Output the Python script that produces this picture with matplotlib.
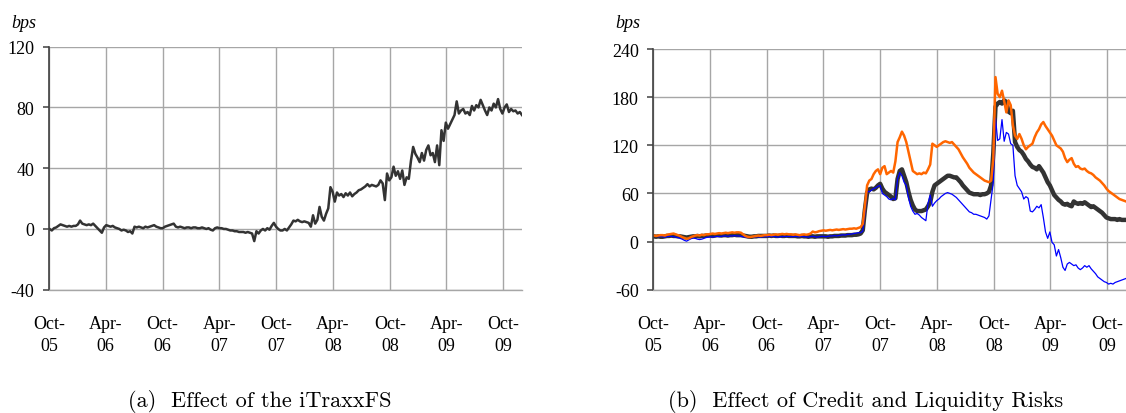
import matplotlib.pyplot as plt
import pandas as pd

plt.rcParams['axes.unicode_minus'] = False

# weekly observations starting on the first Monday of Oct-05
first_week = '2005-10-03'

# (a) effect of the iTraxxFS, bps
itraxx_fs = [
    0, -1, 0.5, 1, 2, 3, 2.5, 2, 1.5, 2, 1.5, 2, 2,
    3, 5.5, 3.5, 3, 2.5, 3, 2.5, 3.5, 2, 0.5, -1, -2.5, 1,
    2.5, 2, 1.5, 2, 1, 0.5, 0, -1, -0.5, -1, -2, -1.5, -3,
    1.5, 1, 1.5, 1, 0.5, 1.5, 1, 1.5, 2, 2.5, 1.5, 1, 0.5,
    0.5, 1.5, 2, 2.5, 3, 3.5, 1.5, 1, 1.5, 1, 0.5, 1, 1,
    0.5, 1, 1, 0.5, 0.5, 1, 0.5, 0, 0.5, -0.5, -1, 0.5, 1,
    0.5, 0.5, 0, 0, -0.5, -1, -1, -1.5, -1.5, -2, -2, -2, -2.5,
    -2, -2.5, -3, -8, -1.5, -3, -1, 0, -1, 0.5, -0.5, 2, 4,
    1.5, 0, -1, -1, 0, -1, 1, 3, 5.5, 5, 6, 5, 4.5,
    5, 4.5, 4, 1.5, 9, 3.5, 6, 14.5, 8, 5.5, 10, 13.5, 27.5,
    24.5, 18, 24, 22, 23, 21, 23.5, 22, 24, 21.5, 23, 24, 25.5,
    26, 27, 28, 29.5, 28, 29, 28.5, 28, 29, 32, 30, 19, 36.5,
    32, 34, 41, 35, 38, 33, 38.5, 29, 34, 33, 45, 54, 49.5,
    47, 44, 50, 45, 52, 55, 48.5, 50, 44, 55, 42, 65, 58,
    70, 66, 69, 72, 75, 84, 76, 78, 79, 76, 77, 75, 81,
    78, 81.5, 80, 85, 81.5, 78, 75, 80, 78, 82.5, 80, 85.5, 79,
    76, 80, 82, 77, 79, 77.5, 78, 76, 77, 75,
]

# (b) effect of credit and liquidity risks, bps
total_effect = [
    6.5, 6, 6.5, 6, 6, 6.5, 7, 7, 7.5, 7, 7, 6.5, 6.5,
    6, 5.5, 5, 5.5, 6, 6.5, 6.5, 7, 6.5, 7, 7, 7.5, 7.5,
    7.5, 7, 7.5, 8, 8, 7.5, 8, 8, 7.5, 8, 8, 8.5, 8,
    8, 8, 7.5, 7, 6.5, 6, 6, 6.5, 6.5, 7, 7, 7, 7,
    7, 7.5, 7, 7.5, 7, 7, 7.5, 7, 7, 7.5, 7, 7, 7,
    7, 6.5, 6.5, 7, 6.5, 6.5, 6, 6.5, 6.5, 6, 6.5, 6.5, 6.5,
    6.5, 6.5, 6, 6.5, 6.5, 7, 7, 7, 7.5, 7.5, 7.5, 8, 8,
    8, 8.5, 8.5, 9, 10, 14, 40, 61, 65, 66, 65, 67, 70,
    72, 66, 62, 60, 58, 56, 53, 54, 78, 88, 90, 82, 74,
    62, 52, 45, 40, 38, 38, 38, 39, 40, 44, 49, 62, 70,
    72, 74, 76, 78, 80, 82, 82, 81, 80, 80, 77, 74, 70,
    67, 64, 61, 60, 59, 59, 59, 58, 59, 59, 60, 62, 70,
    110, 168, 172, 174, 172, 176, 174, 162, 160, 163, 124, 118, 114,
    112, 108, 103, 100, 96, 93, 92, 90, 94, 90, 86, 80, 74,
    70, 64, 58, 55, 52, 50, 47, 46, 47, 45, 44, 50, 48,
    47, 48, 47, 49, 47, 45, 43, 44, 42, 40, 38, 36, 33,
    30, 29, 28, 28, 28, 27, 28, 27, 27, 27,
]

credit_effect = [
    7, 6.5, 6, 6.5, 6, 5.5, 6, 6.5, 6.5, 6, 5.5, 5, 4,
    3, 1.5, 0.5, 2, 3.5, 4.5, 4, 3, 2.5, 3, 4, 5, 5.5,
    6, 5.5, 6, 6.5, 6, 6.5, 7, 7, 6.5, 7, 7, 7.5, 7,
    7, 6.5, 6, 5.5, 5, 5, 5.5, 5.5, 6, 6, 5.5, 6, 6,
    6, 6.5, 6, 6.5, 6, 5.5, 6, 6, 6.5, 6, 6.5, 6, 6,
    6.5, 6, 6, 6.5, 6, 6, 5.5, 6, 6.5, 6, 5.5, 6, 6.5,
    6.5, 6, 6.5, 7, 7, 7.5, 7, 7.5, 8, 8.5, 8, 9, 9,
    9.5, 10, 10.5, 11, 11, 13, 35, 63, 62, 64, 66, 67, 69,
    70, 60, 58, 56, 53, 52, 54, 52, 78, 86, 82, 74, 70,
    55, 44, 38, 34, 35, 33, 30, 28, 26, 48, 58, 44, 48,
    51, 53, 56, 58, 60, 61, 60, 59, 57, 55, 52, 49, 46,
    43, 40, 37, 36, 34, 34, 33, 32, 31, 30, 28, 32, 53,
    74, 154, 126, 128, 152, 125, 136, 134, 122, 120, 82, 70, 66,
    62, 53, 56, 54, 38, 37, 40, 44, 42, 46, 30, 12, 4,
    12, -1, -4, -18, -10, -20, -32, -36, -28, -26, -28, -30, -29,
    -33, -35, -33, -30, -32, -30, -34, -37, -40, -44, -46, -48, -50,
    -51, -53, -52, -53, -51, -50, -49, -48, -47, -46,
]

liquidity_effect = [
    7.5, 7, 7.5, 8, 8, 7.5, 8.5, 9, 9.5, 10, 9, 8, 7,
    5.5, 4.5, 3.5, 4, 5.5, 6.5, 7.5, 8, 7.5, 8.5, 8, 9, 9,
    9.5, 10, 9.5, 10, 10.5, 10, 10.5, 11, 10.5, 11, 11.5, 11, 11.5,
    11.5, 11, 9, 7, 6, 5.5, 6, 6.5, 7, 7.5, 7, 7.5, 8,
    8, 8.5, 8, 8.5, 9, 8.5, 9, 9.5, 9, 9.5, 9, 9, 8.5,
    9, 8.5, 8, 8.5, 9, 8.5, 9, 10, 12.5, 11.5, 12, 13, 13.5,
    14, 13.5, 14, 14.5, 14, 14.5, 15, 14.5, 15, 15.5, 15, 15.5, 16,
    16, 16.5, 16, 17, 18, 22, 45, 70, 76, 78, 84, 88, 90,
    84, 92, 94, 84, 86, 88, 86, 100, 124, 130, 137, 132, 124,
    112, 100, 88, 86, 84, 85, 84, 86, 85, 90, 96, 122, 120,
    118, 120, 122, 124, 125, 124, 123, 124, 121, 118, 115, 110, 105,
    101, 97, 92, 89, 86, 84, 82, 80, 78, 76, 75, 74, 76,
    103, 205, 184, 180, 188, 175, 161, 176, 170, 145, 132, 128, 134,
    128, 120, 115, 118, 120, 122, 130, 136, 140, 146, 149, 144, 140,
    136, 132, 126, 120, 118, 116, 112, 104, 99, 102, 104, 97, 93,
    94, 91, 90, 91, 88, 86, 85, 83, 80, 78, 76, 73, 70,
    66, 63, 61, 59, 57, 55, 53, 52, 51, 50,
]

tick_dates = ['2005-10-01', '2006-04-01', '2006-10-01', '2007-04-01', '2007-10-01',
              '2008-04-01', '2008-10-01', '2009-04-01', '2009-10-01']
tick_labels = ['Oct-\n05', 'Apr-\n06', 'Oct-\n06', 'Apr-\n07', 'Oct-\n07',
               'Apr-\n08', 'Oct-\n08', 'Apr-\n09', 'Oct-\n09']
yticks_a = [-40, 0, 40, 80, 120]
yticks_b = [-60, 0, 60, 120, 180, 240]

serif = 'Liberation Serif'
grid_col = '#A6A6A6'
dark = '#333333'
tick_size = 13


def weeks(series):
    return pd.date_range(first_week, periods=len(series), freq='7D')


def style_axes(ax, yticks):
    ax.set_xlim(pd.Timestamp('2005-10-01'), pd.Timestamp('2009-11-30'))
    ax.set_ylim(yticks[0], yticks[-1])
    ax.set_yticks(yticks)
    ax.set_yticklabels([str(v) for v in yticks], fontfamily=serif, fontsize=tick_size)
    ax.set_xticks(pd.to_datetime(tick_dates))
    ax.set_xticklabels(tick_labels, fontfamily=serif, fontsize=tick_size, linespacing=1.4)
    ax.grid(True, color=grid_col, linewidth=1.0)
    ax.set_axisbelow(True)
    ax.spines['top'].set_visible(False)
    ax.spines['right'].set_visible(False)
    ax.spines['bottom'].set_color(grid_col)
    ax.spines['bottom'].set_linewidth(1.0)
    ax.spines['left'].set_color('#404040')
    ax.spines['left'].set_linewidth(1.2)
    ax.tick_params(axis='x', length=0, pad=18)
    ax.tick_params(axis='y', length=4.5, width=1.1, color='#404040', pad=6, direction='out')


fig = plt.figure(figsize=(11.26, 4.14), dpi=100)

ax1 = fig.add_axes([49 / 1126, (414 - 290.7) / 414, 473 / 1126, 243 / 414])
ax1.plot(weeks(itraxx_fs), itraxx_fs, color=dark, linewidth=1.8)
style_axes(ax1, yticks_a)

ax2 = fig.add_axes([653.3 / 1126, (414 - 290.7) / 414, 472.7 / 1126, 240.7 / 414])
ax2.plot(weeks(total_effect), total_effect, color=dark, linewidth=3.2)
ax2.plot(weeks(credit_effect), credit_effect, color='#0000FF', linewidth=0.9)
ax2.plot(weeks(liquidity_effect), liquidity_effect, color='#FF6600', linewidth=1.8)
style_axes(ax2, yticks_b)

fig.text(11 / 1126, 1 - 24 / 414, 'bps', fontfamily=serif, style='italic', fontsize=13, va='center')
fig.text(615 / 1126, 1 - 24 / 414, 'bps', fontfamily=serif, style='italic', fontsize=13, va='center')

fig.text(260 / 1126, 1 - 402 / 414, '(a)  Effect of the iTraxxFS', fontfamily='cmr10',
         fontsize=16, ha='center', va='center')
fig.text(866 / 1126, 1 - 402 / 414, '(b)  Effect of Credit and Liquidity Risks', fontfamily='cmr10',
         fontsize=16, ha='center', va='center')

fig.savefig('out.png', dpi=100)
